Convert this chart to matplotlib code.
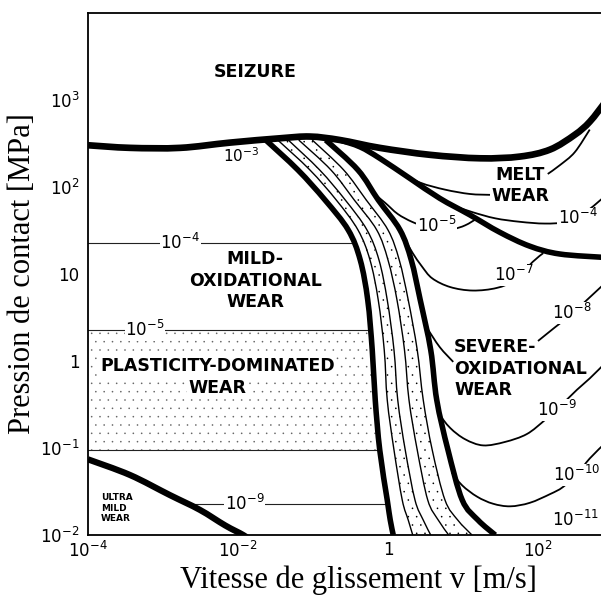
import numpy as np
import matplotlib.pyplot as plt
from matplotlib.patches import Rectangle, PathPatch
from matplotlib.path import Path
from matplotlib.ticker import NullLocator

# Wear map, values as log10(v [m/s]) and log10(p [MPa])

# thick boundary lines
seizure_logv = [-4.0, -3.44, -2.77, -2.11, -1.44, -1.04, -0.64, -0.11, 0.56, 1.23, 1.76, 2.16, 2.49, 2.69, 2.90]
seizure_logp = [2.48, 2.45, 2.45, 2.51, 2.56, 2.58, 2.54, 2.45, 2.37, 2.33, 2.35, 2.43, 2.60, 2.75, 2.98]

melt_logv = [-0.64, -0.37, -0.11, 0.29, 0.69, 1.09, 1.49, 1.89, 2.29, 2.90]
melt_logp = [2.54, 2.46, 2.33, 2.10, 1.87, 1.68, 1.48, 1.32, 1.23, 1.19]

ultra_logv = [-4.0, -3.44, -2.91, -2.51, -2.17, -1.93, -1.84]
ultra_logp = [-1.13, -1.31, -1.54, -1.71, -1.89, -2.00, -2.06]

# transition band (shared pressure levels)
band_logp = [2.54, 2.195, 1.851, 1.506, 1.161, 0.701, 0.126, -0.448, -1.023, -1.598, -1.828, -2.0]
band_left_logv = [-1.63, -1.20, -0.84, -0.53, -0.37, -0.27, -0.21, -0.17, -0.11, -0.01, 0.03, 0.07]
band_thin1_logv = [-1.47, -1.04, -0.69, -0.40, -0.24, -0.13, -0.05, -0.01, 0.08, 0.19, 0.27, 0.33]
band_thin2_logv = [-1.33, -0.91, -0.57, -0.28, -0.12, -0.01, 0.08, 0.13, 0.23, 0.36, 0.47, 0.57]
band_thin3_logv = [-1.19, -0.76, -0.45, -0.15, 0.00, 0.12, 0.22, 0.28, 0.39, 0.53, 0.67, 0.81]
band_thin4_logv = [-1.01, -0.59, -0.29, 0.00, 0.15, 0.27, 0.39, 0.47, 0.59, 0.76, 0.93, 1.12]
band_right_logv = [-0.83, -0.40, -0.13, 0.16, 0.31, 0.43, 0.57, 0.65, 0.80, 0.99, 1.20, 1.43]

# thin wear-rate contours (some are cut by the region names)
c5_logv = [-0.21, -0.04, 0.13, 0.32, 0.49, 0.65, 0.87, 1.03, 1.19]
c5_logp = [1.94, 1.82, 1.69, 1.60, 1.55, 1.53, 1.52, 1.56, 1.64]

cmelt_a_logv = [0.13, 0.43, 0.76, 1.09, 1.36]
cmelt_a_logp = [2.18, 2.05, 1.97, 1.92, 1.91]
cmelt_b_logv = [2.13, 2.29, 2.49, 2.69]
cmelt_b_logp = [2.15, 2.25, 2.40, 2.66]

c4_logv = [0.89, 1.13, 1.43, 1.76, 2.09, 2.36, 2.63, 2.90]
c4_logp = [1.78, 1.71, 1.64, 1.60, 1.58, 1.60, 1.71, 1.90]

c7_logv = [0.23, 0.33, 0.45, 0.59, 0.83, 1.13, 1.45, 1.69, 1.93, 2.07]
c7_logp = [1.39, 1.24, 1.09, 0.95, 0.85, 0.81, 0.84, 0.93, 1.14, 1.24]

c8_a_logv = [0.52, 0.69, 0.87]
c8_a_logp = [0.38, 0.16, -0.01]
c8_b_logv = [2.00, 2.23, 2.45, 2.65, 2.90]
c8_b_logp = [0.23, 0.39, 0.54, 0.70, 0.90]

c9_logv = [0.67, 0.83, 1.03, 1.27, 1.56, 1.85, 2.09, 2.27, 2.52, 2.69, 2.90]
c9_logp = [-0.60, -0.77, -0.90, -0.97, -0.93, -0.84, -0.68, -0.54, -0.33, -0.20, -0.02]

c10_logv = [0.85, 0.99, 1.19, 1.40, 1.63, 1.89, 2.16, 2.33, 2.52, 2.69, 2.90]
c10_logp = [-1.28, -1.43, -1.56, -1.64, -1.67, -1.63, -1.53, -1.45, -1.30, -1.12, -0.94]

# horizontal contours on the left
hline_logp = [1.356, 0.356, -1.023, -1.644]
hline_start_logv = [-4.0, -4.0, -4.0, -2.57]
hline_end_logv = [-0.47, -0.26, -0.11, 0.0]

# contour labels: (text, log v, log p)
rate_labels = [
    ("$10^{-4}$", -2.77, 1.356),
    ("$10^{-5}$", -3.24, 0.356),
    ("$10^{-9}$", -1.91, -1.644),
    ("$10^{-5}$", 0.65, 1.55),
    ("$10^{-4}$", 2.53, 1.64),
    ("$10^{-7}$", 1.68, 0.99),
    ("$10^{-8}$", 2.45, 0.55),
    ("$10^{-9}$", 2.25, -0.565),
    ("$10^{-10}$", 2.51, -1.31),
    ("$10^{-11}$", 2.50, -1.83),
]


def lin(a):
    return 10 ** np.asarray(a, dtype=float)


def curve(ax, logv, logp, lw, zorder=2):
    # smooth curve through the read points (Catmull-Rom as cubic Bezier, in log space)
    P = np.column_stack([logv, logp]).astype(float)
    ext = np.vstack([P[0], P, P[-1]])
    verts = [P[0]]
    codes = [Path.MOVETO]
    for i in range(len(P) - 1):
        p0, p1, p2, p3 = ext[i], ext[i + 1], ext[i + 2], ext[i + 3]
        verts += [p1 + (p2 - p0) / 6.0, p2 - (p3 - p1) / 6.0, p2]
        codes += [Path.CURVE4] * 3
    verts = 10 ** np.array(verts)
    ax.add_patch(PathPatch(Path(verts, codes), fill=False, edgecolor='black',
                           lw=lw, zorder=zorder, capstyle='butt'))


def main():
    plt.rcParams['hatch.linewidth'] = 0.0
    fig = plt.figure(figsize=(6.01, 5.99), dpi=100)
    ax = fig.add_axes([0.1464, 0.1068, 0.8536, 0.8715])
    ax.set_xscale('log')
    ax.set_yscale('log')
    ax.set_xlim(1e-4, 10 ** 2.84)
    ax.set_ylim(1e-2, 1e4)

    bp = lin(band_logp)

    # stippled areas
    plast = ax.fill_betweenx(bp, 1e-4, lin(band_left_logv), facecolor='none',
                             edgecolor='#666666', linewidth=0, hatch='..', zorder=1)
    plast.set_clip_path(Rectangle((1e-4, 10 ** -1.023), 10.0, 10 ** 0.356 - 10 ** -1.023,
                                  transform=ax.transData))
    for a, b in [(band_thin1_logv, band_thin2_logv), (band_thin3_logv, band_thin4_logv)]:
        ax.fill_betweenx(bp, lin(a), lin(b), facecolor='none', edgecolor='black',
                         linewidth=0, hatch='..', zorder=1)

    # thin lines
    for lp, v0, v1 in zip(hline_logp, hline_start_logv, hline_end_logv):
        ax.plot([10 ** v0, 10 ** v1], [10 ** lp, 10 ** lp], color='#222222', lw=0.8, zorder=2)
    for lv in [band_thin1_logv, band_thin2_logv, band_thin3_logv, band_thin4_logv]:
        curve(ax, lv, band_logp, 1.0)
    for lv, lp in [(c5_logv, c5_logp), (cmelt_a_logv, cmelt_a_logp), (cmelt_b_logv, cmelt_b_logp),
                   (c4_logv, c4_logp), (c7_logv, c7_logp), (c8_a_logv, c8_a_logp),
                   (c8_b_logv, c8_b_logp), (c9_logv, c9_logp), (c10_logv, c10_logp)]:
        curve(ax, lv, lp, 1.3)

    # thick boundaries
    curve(ax, seizure_logv, seizure_logp, 4.8, zorder=3)
    curve(ax, melt_logv, melt_logp, 4.0, zorder=3)
    curve(ax, band_left_logv, band_logp, 4.0, zorder=3)
    curve(ax, band_right_logv, band_logp, 4.0, zorder=3)
    curve(ax, ultra_logv, ultra_logp, 4.5, zorder=3)

    # labels on contours
    box = dict(facecolor='white', edgecolor='none', pad=0.5)
    for txt, lv, lp in rate_labels:
        ax.text(10 ** lv, 10 ** lp, txt, fontsize=12, ha='center', va='center',
                bbox=box, zorder=4)
    ax.text(10 ** -1.96, 10 ** 2.36, "$10^{-3}$", fontsize=11, ha='center', va='center', zorder=4)

    # region names
    bold = dict(fontsize=12.5, fontweight='bold', zorder=5, linespacing=1.25)
    wbox = dict(facecolor='white', edgecolor='none', pad=1.0)
    ax.text(10 ** -1.77, 10 ** 3.32, "SEIZURE", ha='center', va='center', **bold)
    ax.text(10 ** -1.77, 10 ** 0.92, "MILD-\nOXIDATIONAL\nWEAR", ha='center', va='center',
            multialignment='center', **bold)
    ax.text(10 ** -2.27, 10 ** -0.06, "PLASTICITY-DOMINATED", ha='center', va='center',
            bbox=wbox, **bold)
    ax.text(10 ** -2.27, 10 ** -0.31, "WEAR", ha='center', va='center', bbox=wbox, **bold)
    ax.text(10 ** 1.76, 10 ** 2.02, "MELT\nWEAR", ha='center', va='center',
            multialignment='center', **bold)
    ax.text(10 ** 0.88, 10 ** -0.09, "SEVERE-\nOXIDATIONAL\nWEAR", ha='left', va='center',
            multialignment='left', **bold)
    ax.text(10 ** -3.83, 10 ** -1.69, "ULTRA\nMILD\nWEAR", ha='left', va='center',
            fontsize=6.5, fontweight='bold', linespacing=1.2, zorder=5)

    # axes cosmetics
    ax.set_xticks([1e-4, 1e-2, 1, 1e2])
    ax.set_xticklabels(["$10^{-4}$", "$10^{-2}$", "1", "$10^{2}$"])
    ax.set_yticks([1e-2, 1e-1, 1, 10, 1e2, 1e3])
    ax.set_yticklabels(["$10^{-2}$", "$10^{-1}$", "1", "10", "$10^{2}$", "$10^{3}$"])
    ax.xaxis.set_minor_locator(NullLocator())
    ax.yaxis.set_minor_locator(NullLocator())
    ax.tick_params(length=0, labelsize=12)
    ax.tick_params(axis='x', pad=4)
    ax.tick_params(axis='y', pad=6)
    for side in ['left', 'bottom', 'top']:
        ax.spines[side].set_linewidth(1.3)
    ax.spines['right'].set_visible(False)

    ax.set_xlabel("Vitesse de glissement v [m/s]", family='Liberation Serif', fontsize=22)
    ax.set_ylabel("Pression de contact [MPa]", family='Liberation Serif', fontsize=22, labelpad=2)
    ax.xaxis.set_label_coords(0.527, -0.058)

    fig.savefig('out.png', dpi=100)


if __name__ == "__main__":
    main()
